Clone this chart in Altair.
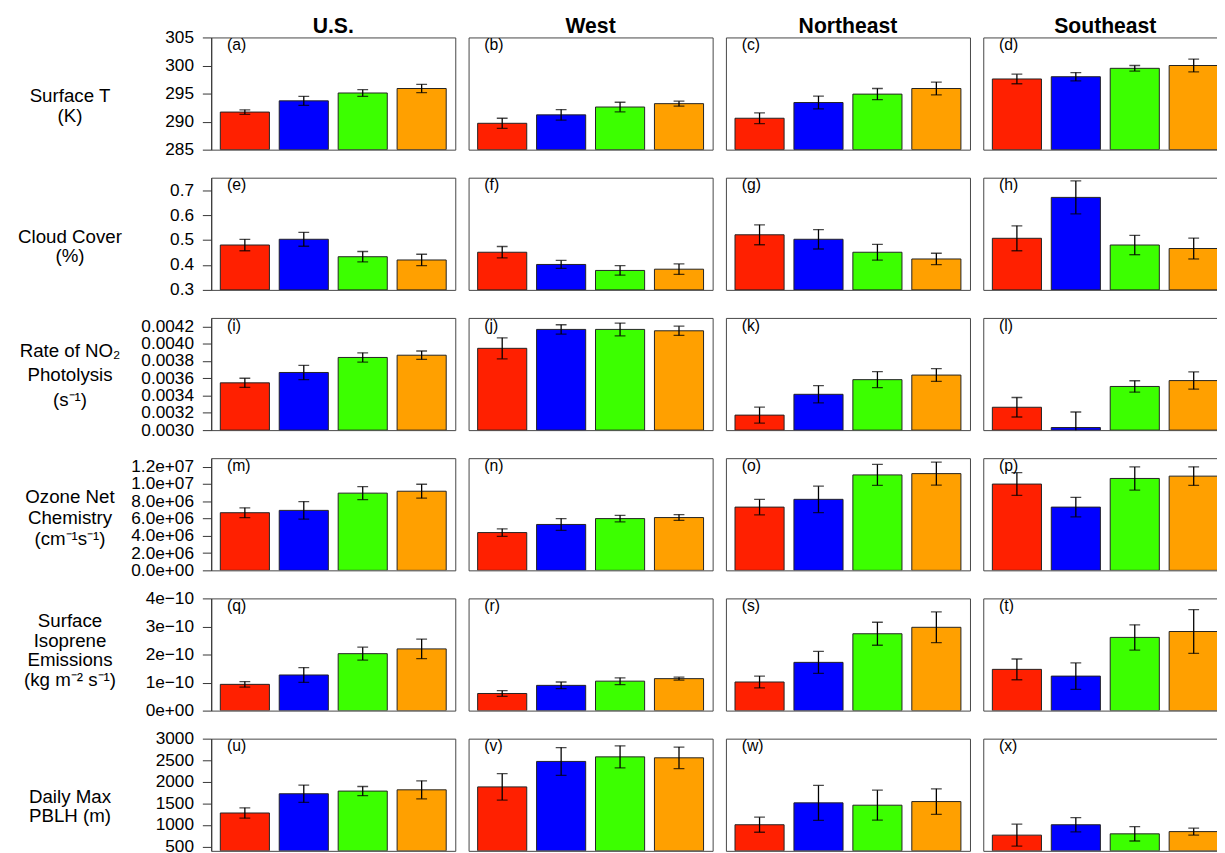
import json
import altair as alt
import pandas as pd

# ---------------- data ----------------
REGIONS = ["U.S.", "West", "Northeast", "Southeast"]
CASES = ["Case 1", "Case 2", "Case 3", "Case 4"]
CASE_COLORS = ["#FF2000", "#0000FF", "#3CFF00", "#FFA000"]
LETTERS = list("abcdefghijklmnopqrstuvwx")

# each list: [U.S., West, Northeast, Southeast] x [case1..case4]
SURF_T = [[291.7, 293.7, 295.1, 295.9], [289.7, 291.2, 292.6, 293.2],
          [290.6, 293.4, 294.9, 295.9], [297.6, 298.0, 299.5, 300.0]]
SURF_T_ERR = [[0.4, 0.8, 0.6, 0.75], [0.9, 0.95, 0.85, 0.45],
              [0.95, 1.15, 1.0, 1.15], [0.85, 0.75, 0.5, 1.15]]

CLOUD = [[0.480, 0.503, 0.433, 0.420], [0.451, 0.402, 0.378, 0.383],
         [0.521, 0.503, 0.451, 0.424], [0.507, 0.671, 0.480, 0.466]]
CLOUD_ERR = [[0.023, 0.028, 0.021, 0.023], [0.023, 0.016, 0.019, 0.021],
             [0.040, 0.039, 0.032, 0.023], [0.050, 0.066, 0.039, 0.042]]

JNO2 = [[0.003548, 0.003668, 0.003842, 0.003868], [0.003948, 0.004167, 0.004167, 0.004151],
        [0.003174, 0.003415, 0.003585, 0.003638], [0.003265, 0.003030, 0.003506, 0.003574]]
JNO2_ERR = [[0.000053, 0.000083, 0.000054, 0.000049], [0.000122, 0.000054, 0.000074, 0.000054],
            [0.000092, 0.000100, 0.000092, 0.000074], [0.000113, 0.000180, 0.000066, 0.000100]]

O3CHEM = [[6.68e6, 6.95e6, 8.95e6, 9.17e6], [4.38e6, 5.32e6, 6.00e6, 6.12e6],
          [7.33e6, 8.23e6, 11.06e6, 11.21e6], [10.0e6, 7.33e6, 10.65e6, 10.92e6]]
O3CHEM_ERR = [[0.57e6, 1.02e6, 0.75e6, 0.81e6], [0.43e6, 0.68e6, 0.38e6, 0.34e6],
              [0.89e6, 1.53e6, 1.21e6, 1.34e6], [1.32e6, 1.13e6, 1.34e6, 1.08e6]]

ISOP = [[0.936e-10, 1.27e-10, 2.03e-10, 2.20e-10], [0.61e-10, 0.90e-10, 1.05e-10, 1.14e-10],
        [1.02e-10, 1.72e-10, 2.74e-10, 2.97e-10], [1.47e-10, 1.23e-10, 2.61e-10, 2.82e-10]]
ISOP_ERR = [[0.10e-10, 0.265e-10, 0.23e-10, 0.35e-10], [0.10e-10, 0.12e-10, 0.12e-10, 0.05e-10],
            [0.21e-10, 0.39e-10, 0.41e-10, 0.55e-10], [0.37e-10, 0.47e-10, 0.45e-10, 0.78e-10]]

PBLH = [[1277, 1723, 1785, 1814], [1882, 2472, 2578, 2556],
        [1005, 1512, 1458, 1542], [764, 1005, 794, 846]]
PBLH_ERR = [[120, 200, 106, 208], [306, 321, 257, 249],
            [174, 404, 348, 295], [253, 163, 166, 80]]

ROW_LABELS = [
    ["Surface T", "(K)"],
    ["Cloud Cover", "(%)"],
    ["Rate of NO₂", "Photolysis", "(s⁻¹)"],
    ["Ozone Net", "Chemistry", "(cm⁻¹s⁻¹)"],
    ["Surface", "Isoprene", "Emissions", "(kg m⁻² s⁻¹)"],
    ["Daily Max", "PBLH (m)"],
]
DOMAINS = [[285, 305], [0.3, 0.75], [0.003, 0.0043], [0, 1.3e7], [0, 4e-10], [400, 3000]]
TICKS = [
    [285, 290, 295, 300, 305],
    [0.3, 0.4, 0.5, 0.6, 0.7],
    [0.003, 0.0032, 0.0034, 0.0036, 0.0038, 0.004, 0.0042],
    [0, 2e6, 4e6, 6e6, 8e6, 1e7, 1.2e7],
    [0, 1e-10, 2e-10, 3e-10, 4e-10],
    [500, 1000, 1500, 2000, 2500, 3000],
]
TICK_LABELS = [
    ["285", "290", "295", "300", "305"],
    ["0.3", "0.4", "0.5", "0.6", "0.7"],
    ["0.0030", "0.0032", "0.0034", "0.0036", "0.0038", "0.0040", "0.0042"],
    ["0.0e+00", "2.0e+06", "4.0e+06", "6.0e+06", "8.0e+06", "1.0e+07", "1.2e+07"],
    ["0e+00", "1e\u221210", "2e\u221210", "3e\u221210", "4e\u221210"],
    ["500", "1000", "1500", "2000", "2500", "3000"],
]
MEANS = [SURF_T, CLOUD, JNO2, O3CHEM, ISOP, PBLH]
ERRS = [SURF_T_ERR, CLOUD_ERR, JNO2_ERR, O3CHEM_ERR, ISOP_ERR, PBLH_ERR]

# ---------------- style / layout ----------------
W, H = 248, 114
FONT = "Liberation Sans"
TITLE_Y = [59, 60, 33.5, 39.5, 22.5, 59]     # first-line position of the row labels
TITLE_LH = [20, 19, 24.5, 21, 20, 19]


def panel(ri, ci):
    lo, hi = DOMAINS[ri]
    df = pd.DataFrame({"case": CASES, "mean": MEANS[ri][ci], "err": ERRS[ri][ci]})
    df["low"] = df["mean"] - df["err"]
    df["high"] = df["mean"] + df["err"]

    yscale = alt.Scale(domain=[lo, hi], nice=False, zero=False)
    if ci == 0:
        label_expr = "%s[indexof(%s, datum.value)]" % (
            json.dumps(TICK_LABELS[ri], ensure_ascii=False), json.dumps(TICKS[ri]))
        yaxis = alt.Axis(values=TICKS[ri], labelExpr=label_expr, grid=False,
                         tickSize=9, tickColor="#333", domainColor="#333",
                         labelFontSize=17.5, labelColor="black", labelPadding=9,
                         labelFont=FONT,
                         title=ROW_LABELS[ri], titleAngle=0, titleAlign="center",
                         titleBaseline="middle", titleX=-144, titleY=TITLE_Y[ri],
                         titleFontSize=19, titleFontWeight="normal", titleColor="black",
                         titleFont=FONT, titleLineHeight=TITLE_LH[ri])
    else:
        yaxis = None

    xenc = alt.X("case:N", sort=CASES, axis=None,
                 scale=alt.Scale(paddingInner=0.1667, paddingOuter=0.154))
    base = alt.Chart(df)
    bars = base.mark_bar(stroke="#222", strokeWidth=1, clip=True).encode(
        x=xenc,
        y=alt.Y("mean:Q", scale=yscale, axis=yaxis),
        y2=alt.datum(lo),
        color=alt.Color("case:N", scale=alt.Scale(domain=CASES, range=CASE_COLORS), legend=None),
    )
    rule = base.mark_rule(color="black", strokeWidth=1.3, clip=True).encode(
        x=xenc, y=alt.Y("low:Q", scale=yscale, axis=yaxis), y2="high:Q")
    cap_lo = base.mark_tick(color="black", size=11, thickness=1.3, orient="horizontal", clip=True).encode(
        x=xenc, y=alt.Y("low:Q", scale=yscale, axis=yaxis))
    cap_hi = base.mark_tick(color="black", size=11, thickness=1.3, orient="horizontal", clip=True).encode(
        x=xenc, y=alt.Y("high:Q", scale=yscale, axis=yaxis))
    letter = alt.Chart(pd.DataFrame({"t": ["(%s)" % LETTERS[ri * 4 + ci]]})).mark_text(
        align="left", baseline="top", fontSize=16, color="black", font=FONT).encode(
        x=alt.value(16), y=alt.value(0), text="t:N")
    spacer = alt.Chart(pd.DataFrame({"t": [0]})).mark_rule(opacity=0, clip=False).encode(
        x=alt.value(0), y=alt.value(-10), y2=alt.value(H + 10))

    props = dict(width=W, height=H)
    if ri == 0:
        props["title"] = alt.TitleParams(REGIONS[ci], fontSize=21.5, fontWeight="bold",
                                         font=FONT, color="black", offset=-9.5)
    return alt.layer(spacer, bars, rule, cap_lo, cap_hi, letter).properties(**props)


rows = [alt.hconcat(*[panel(ri, ci) for ci in range(4)], spacing=11.5) for ri in range(6)]
chart = alt.vconcat(*rows, spacing=6.5).properties(
    padding={"left": 8.5, "top": 0, "right": -11, "bottom": 0}
).configure(font=FONT).configure_view(stroke="#444", strokeWidth=1)

chart.save("out.html", embed_options={"renderer": "svg", "actions": False})
